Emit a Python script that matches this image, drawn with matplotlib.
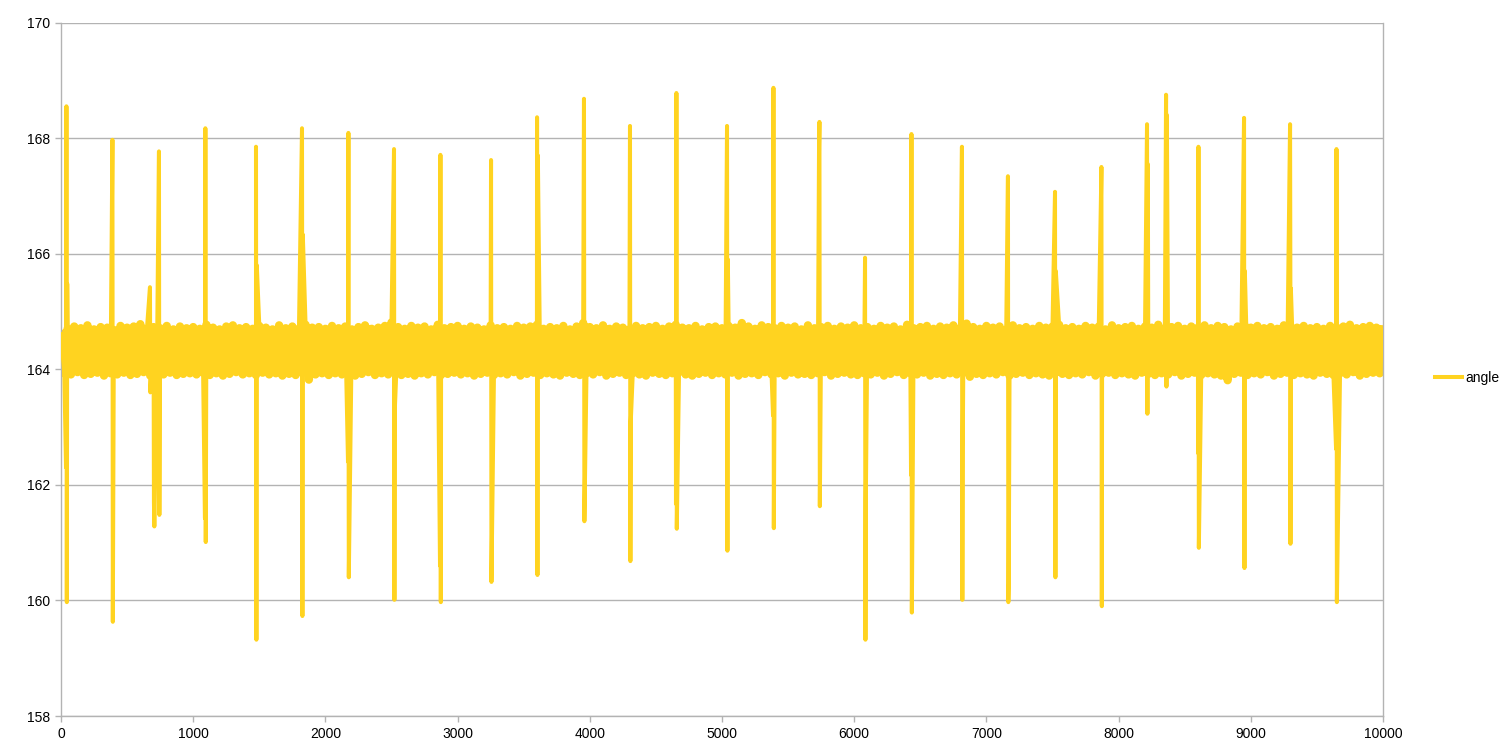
import matplotlib
matplotlib.use("Agg")
import matplotlib.pyplot as plt
import numpy as np

# upper turning points of the noise band, one every 50 samples (x = 0 .. 10000)
band_hi = [
    164.61, 164.70, 164.74, 164.71, 164.76, 164.69, 164.73, 164.72, 164.68, 164.75,
    164.72, 164.74, 164.78, 164.70, 164.73, 164.71, 164.75, 164.69, 164.74, 164.71,
    164.73, 164.70, 164.77, 164.72, 164.69, 164.74, 164.76, 164.71, 164.73, 164.70,
    164.75, 164.72, 164.69, 164.76, 164.71, 164.74, 164.70, 164.77, 164.72, 164.73,
    164.70, 164.75, 164.71, 164.74, 164.69, 164.73, 164.76, 164.70, 164.72, 164.75,
    164.81, 164.73, 164.70, 164.75, 164.72, 164.74, 164.69, 164.77, 164.71, 164.73,
    164.75, 164.70, 164.74, 164.72, 164.69, 164.76, 164.71, 164.73, 164.70, 164.75,
    164.72, 164.74, 164.77, 164.70, 164.73, 164.71, 164.75, 164.69, 164.74, 164.80,
    164.73, 164.71, 164.76, 164.70, 164.74, 164.72, 164.69, 164.75, 164.71, 164.73,
    164.75, 164.70, 164.74, 164.77, 164.72, 164.71, 164.75, 164.69, 164.73, 164.74,
    164.71, 164.75, 164.72, 164.80, 164.74, 164.70, 164.76, 164.73, 164.71, 164.75,
    164.72, 164.74, 164.69, 164.76, 164.71, 164.73, 164.75, 164.70, 164.74, 164.72,
    164.76, 164.71, 164.73, 164.70, 164.75, 164.72, 164.74, 164.69, 164.77, 164.71,
    164.73, 164.75, 164.70, 164.74, 164.72, 164.76, 164.71, 164.79, 164.73, 164.70,
    164.75, 164.72, 164.74, 164.69, 164.76, 164.71, 164.73, 164.70, 164.75, 164.72,
    164.74, 164.77, 164.71, 164.73, 164.70, 164.75, 164.72, 164.74, 164.69, 164.76,
    164.71, 164.73, 164.75, 164.70, 164.74, 164.72, 164.77, 164.71, 164.73, 164.75,
    164.70, 164.74, 164.72, 164.76, 164.71, 164.75, 164.73, 164.69, 164.74, 164.78,
    164.72, 164.75, 164.71, 164.73, 164.70, 164.76, 164.74, 164.72, 164.75, 164.71,
    164.73, 164.70, 164.75, 164.72, 164.74, 164.77, 164.71, 164.73, 164.75, 164.72,
    164.69,
]

# lower turning points, one every 50 samples (x = 25 .. 9975)
band_lo = [
    163.93, 163.91, 163.95, 163.90, 163.92, 163.94, 163.89, 163.93, 163.91, 163.94,
    163.90, 163.92, 163.95, 163.89, 163.93, 163.91, 163.94, 163.90, 163.92, 163.93,
    163.91, 163.94, 163.90, 163.93, 163.89, 163.92, 163.95, 163.91, 163.93, 163.90,
    163.94, 163.91, 163.93, 163.89, 163.92, 163.90, 163.94, 163.82, 163.91, 163.93,
    163.90, 163.93, 163.91, 163.94, 163.89, 163.92, 163.95, 163.90, 163.93, 163.91,
    163.94, 163.90, 163.92, 163.89, 163.93, 163.91, 163.95, 163.90, 163.92, 163.94,
    163.91, 163.93, 163.89, 163.92, 163.94, 163.90, 163.93, 163.91, 163.95, 163.89,
    163.92, 163.94, 163.90, 163.93, 163.91, 163.89, 163.94, 163.92, 163.90, 163.93,
    163.91, 163.95, 163.89, 163.92, 163.94, 163.90, 163.93, 163.91, 163.89, 163.94,
    163.92, 163.90, 163.93, 163.95, 163.91, 163.89, 163.92, 163.94, 163.90, 163.93,
    163.91, 163.94, 163.89, 163.92, 163.93, 163.90, 163.95, 163.91, 163.93, 163.89,
    163.94, 163.91, 163.92, 163.90, 163.93, 163.95, 163.89, 163.92, 163.94, 163.91,
    163.90, 163.93, 163.91, 163.94, 163.89, 163.92, 163.95, 163.90, 163.93, 163.91,
    163.94, 163.89, 163.92, 163.90, 163.93, 163.91, 163.94, 163.87, 163.92, 163.90,
    163.93, 163.91, 163.95, 163.89, 163.92, 163.94, 163.90, 163.93, 163.91, 163.89,
    163.94, 163.92, 163.90, 163.93, 163.91, 163.95, 163.89, 163.92, 163.94, 163.90,
    163.93, 163.91, 163.89, 163.94, 163.92, 163.90, 163.93, 163.91, 163.95, 163.89,
    163.92, 163.94, 163.90, 163.93, 163.91, 163.89, 163.81, 163.92, 163.94, 163.90,
    163.93, 163.91, 163.95, 163.89, 163.92, 163.94, 163.90, 163.93, 163.91, 163.89,
    163.94, 163.92, 163.90, 163.93, 163.91, 163.95, 163.89, 163.92, 163.94, 163.93,
]

# spikes: sample index where each starts and the consecutive values it runs through
spike_x = [38, 386, 673, 703, 741, 1089, 1475, 1823, 2171, 2519,
           2867, 3253, 3601, 3956, 4304, 4652, 5038, 5386, 5734, 6082,
           6430, 6815, 7163, 7519, 7867, 8215, 8359, 8601, 8949, 9297, 9645]
spike_vals = [
    [162.3, 168.55, 159.97, 165.48],
    [167.07, 167.97, 159.63],
    [165.42, 163.6],
    [161.7, 161.28],
    [167.77, 161.48, 163.38],
    [161.42, 168.17, 161.01],
    [167.85, 159.32, 165.8],
    [168.17, 159.73, 166.33],
    [162.4, 168.09, 160.4],
    [167.81, 160.01, 163.3],
    [160.6, 167.71, 159.97],
    [167.62, 160.32],
    [168.36, 160.44, 167.7],
    [168.68, 161.37],
    [168.21, 160.68, 163.1],
    [161.67, 168.78, 161.24],
    [168.21, 160.86, 165.9],
    [163.2, 168.87, 161.25],
    [167.85, 168.28, 161.63],
    [165.93, 159.32, 161.76],
    [162.17, 168.07, 159.79],
    [167.85, 160.01, 162.64],
    [167.34, 159.97, 160.3],
    [167.07, 160.4, 165.7],
    [167.05, 167.5, 159.9],
    [168.24, 163.23, 167.55],
    [168.75, 163.7, 168.4],
    [162.55, 167.85, 160.91],
    [168.35, 160.56, 165.7],
    [168.24, 160.98, 165.4],
    [162.62, 167.81, 159.97],
]

x_ticks = [0, 1000, 2000, 3000, 4000, 5000, 6000, 7000, 8000, 9000, 10000]
y_ticks = [158, 160, 162, 164, 166, 168, 170]

# the noise band alone, in sample order
bx = np.array(list(np.arange(0, 10001, 50)) + list(np.arange(25, 10000, 50)), dtype=float)
by = np.array(list(band_hi) + list(band_lo))
o = np.argsort(bx, kind="stable")
bx, by = bx[o], by[o]

# whole series with the spikes slotted in
xs = list(bx)
ys = list(by)
for s, vals in zip(spike_x, spike_vals):
    for k, v in enumerate(vals):
        xs.append(s + 3 * k)
        ys.append(v)
xs = np.array(xs, dtype=float)
ys = np.array(ys)
order = np.argsort(xs, kind="stable")
xs, ys = xs[order], ys[order]

plt.rcParams['font.family'] = ['Liberation Sans', 'DejaVu Sans']
plt.rcParams['path.simplify'] = False
fig = plt.figure(figsize=(15.12, 7.56), dpi=100)
ax = fig.add_axes([61 / 1512, 1 - 716 / 756, (1383 - 61) / 1512, (716 - 22.5) / 756])

grey = "#b3b3b3"
yellow = "#ffd320"
# dense noise: a thicker stroke so the band reads solid like the original
ax.plot(bx, by, color=yellow, linewidth=6, solid_joinstyle="round", zorder=2)
ax.plot(xs, ys, color=yellow, linewidth=2.9, label="angle",
        solid_joinstyle="round", zorder=3)

ax.set_xlim(0, 10000)
ax.set_ylim(158, 170)
ax.set_xticks(x_ticks)
ax.set_yticks(y_ticks)
ax.yaxis.grid(True, color=grey, linewidth=1.0)
ax.set_axisbelow(True)
for side in ["left", "bottom", "right"]:
    ax.spines[side].set_color(grey)
    ax.spines[side].set_linewidth(1.0)
ax.spines["top"].set_visible(False)
ax.tick_params(axis="both", direction="out", length=4, width=1.0, color=grey,
               labelsize=10, labelcolor="black", pad=4)
ax.tick_params(axis="y", right=False)

ax.legend(loc="center left", bbox_to_anchor=(1.03, 0.487), frameon=False,
          fontsize=10, handlelength=1.95, handletextpad=0.25)

fig.savefig("out.png", dpi=100)
